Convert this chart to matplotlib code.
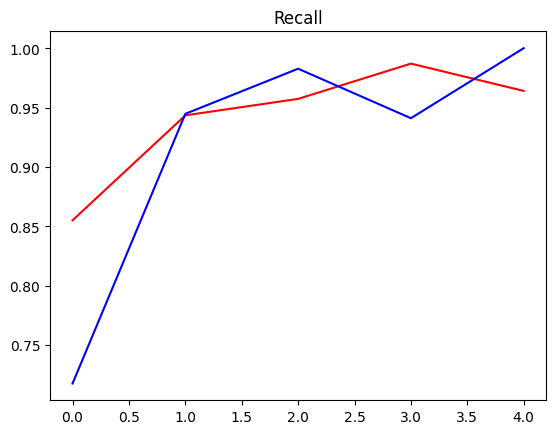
import matplotlib
matplotlib.use("Agg")
import matplotlib.pyplot as plt

epochs = [0, 1, 2, 3, 4]
recall_blue = [0.7175, 0.9447, 0.9827, 0.941, 1.000]
recall_red = [0.855, 0.9434, 0.9573, 0.987, 0.964]

fig = plt.figure(figsize=(5.56, 4.35), dpi=100)
ax = fig.add_axes([0.0899, 0.0775, 0.8926, 0.848])
ax.plot(epochs, recall_red, color="red")
ax.plot(epochs, recall_blue, color="blue")
ax.set_title("Recall")
fig.savefig("out.png", dpi=100)
